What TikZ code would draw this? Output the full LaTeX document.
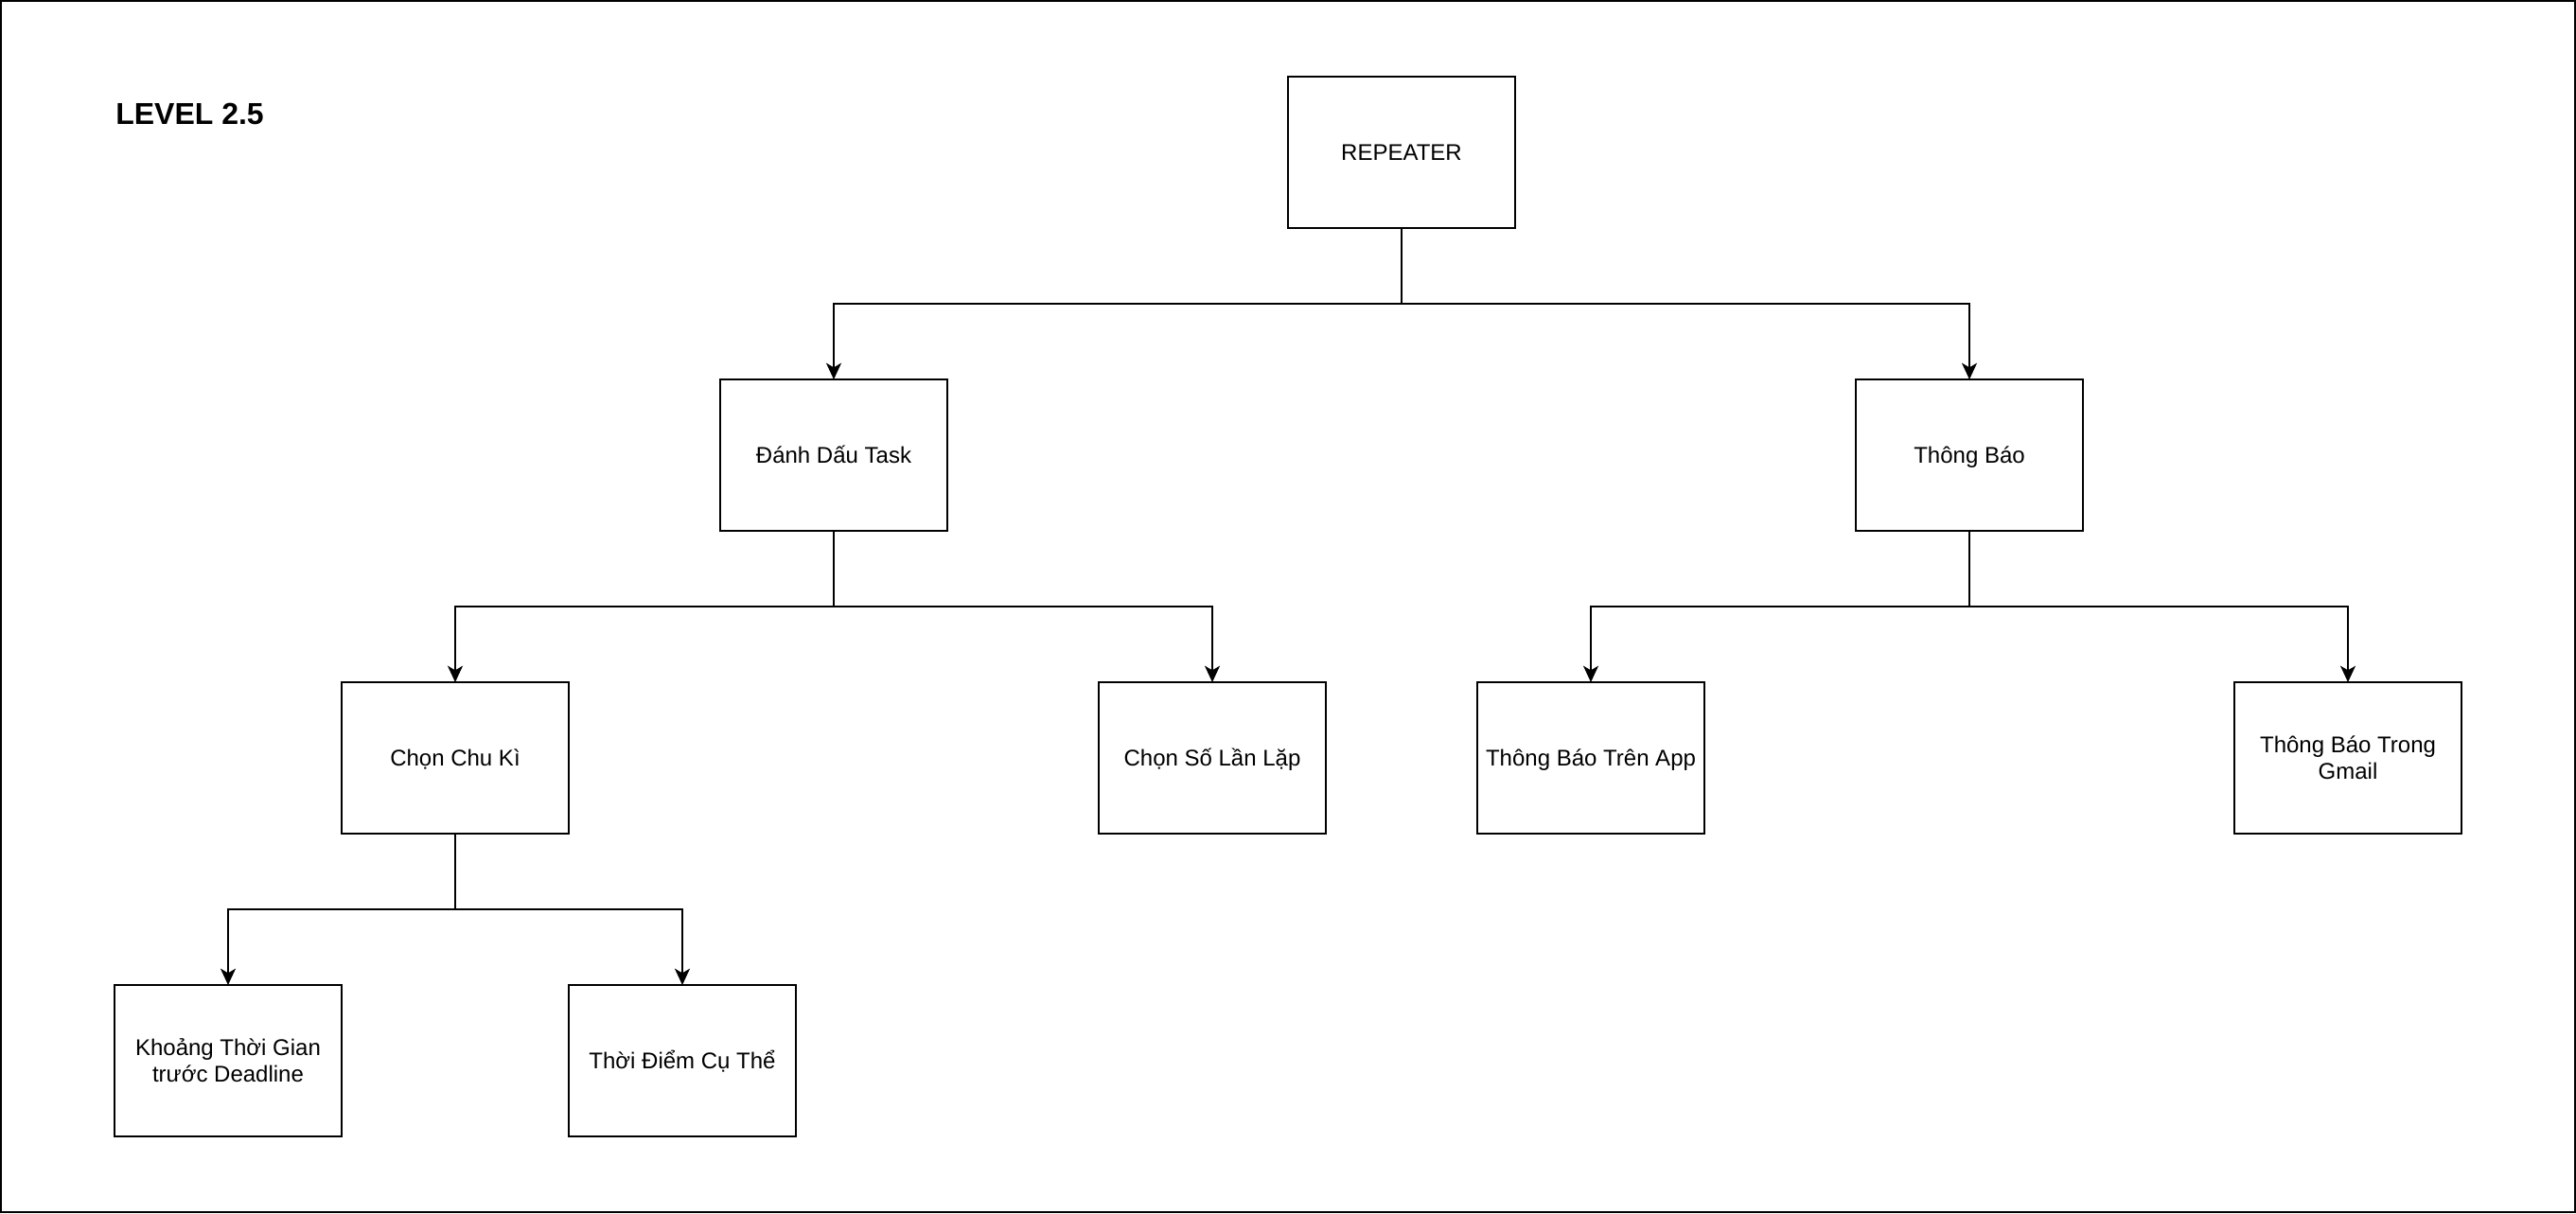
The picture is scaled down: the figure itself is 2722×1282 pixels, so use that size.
\documentclass[tikz,border=0pt]{standalone}
\usepackage{fontspec}
\setmainfont{Liberation Sans}
\usetikzlibrary{arrows.meta}
\begin{document}
\begin{tikzpicture}[x=0.75pt,y=-0.75pt,
  box/.style={draw,line width=1.5pt,minimum width=180pt,minimum height=120pt,
    inner sep=0pt,outer sep=0pt,align=center,
    font=\fontsize{18pt}{21pt}\selectfont},
  % one-line labels are centred on their capitals
  oneline/.style={text height=12.9pt,text depth=0pt},
  arr/.style={line width=1.5pt,-{Stealth[length=13pt,width=12pt,inset=3.5pt]}},
  title/.style={anchor=west,inner sep=0pt,font=\fontsize{24pt}{28pt}\selectfont\bfseries}]
  % page frame
  \useasboundingbox (0,0) rectangle (2722,1282);
  \draw[line width=1.5pt] (1,1) rectangle (2721,1281);

  \node[title] (lvl) at (122,120) {LEVEL 2.5};

  % tree nodes
  \node[box,oneline] (rep)    at (1481,161)  {REPEATER};
  \node[box,oneline] (dau)    at (881,481)   {Đánh Dấu Task};
  \node[box,oneline] (tb)     at (2081,481)  {Thông Báo};
  \node[box,oneline] (chu)    at (481,801)   {Chọn Chu Kì};
  \node[box,oneline] (so)     at (1281,801)  {Chọn Số Lần Lặp};
  \node[box,oneline] (app)    at (1681,801)  {Thông Báo Trên App};
  \node[box] (gmail)  at (2481,801)  {Thông Báo Trong\\Gmail};
  \node[box] (khoang) at (241,1121)  {Khoảng Thời Gian\\trước Deadline};
  \node[box,oneline] (diem)   at (721,1121)  {Thời Điểm Cụ Thể};

  % orthogonal connectors
  \draw[arr] (rep.south) -- ++(0,80) -| (dau.north);
  \draw[arr] (rep.south) -- ++(0,80) -| (tb.north);
  \draw[arr] (dau.south) -- ++(0,80) -| (chu.north);
  \draw[arr] (dau.south) -- ++(0,80) -| (so.north);
  \draw[arr] (tb.south)  -- ++(0,80) -| (app.north);
  \draw[arr] (tb.south)  -- ++(0,80) -| (gmail.north);
  \draw[arr] (chu.south) -- ++(0,80) -| (khoang.north);
  \draw[arr] (chu.south) -- ++(0,80) -| (diem.north);
\end{tikzpicture}
\end{document}
